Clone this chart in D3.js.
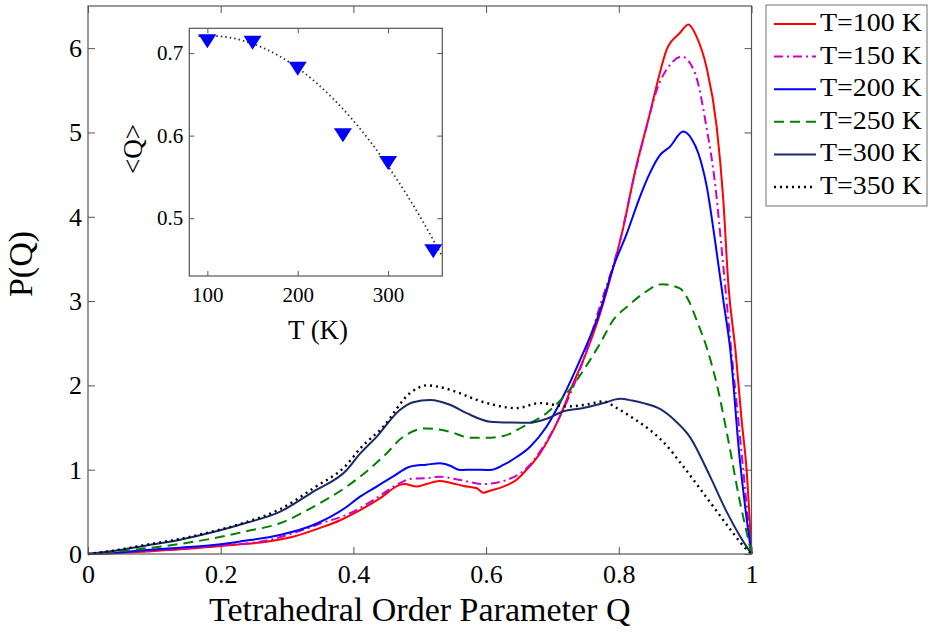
<!DOCTYPE html>
<html>
<head>
<meta charset="utf-8">
<script src="https://cdn.jsdelivr.net/npm/d3@7"></script>
<style>
  body { margin: 0; background: #fff; }
  svg { display: block; font-family: "Liberation Serif", "Times New Roman", serif; }
  svg text { font-family: "Liberation Serif", "Times New Roman", serif !important; }
</style>
</head>
<body>
<svg width="930" height="634"></svg>
<script>
/* global d3 */

// distributions P(Q), pairs of [Q, P]
const t100 = [[0,0],[0.04,0.01],[0.088,0.03],[0.14,0.055],[0.189,0.087],[0.23,0.115],[0.269,0.146],[0.309,0.205],[0.35,0.31],[0.38,0.4],[0.41,0.52],[0.44,0.66],[0.47,0.82],[0.477,0.83],[0.495,0.8],[0.51,0.83],[0.53,0.866],[0.546,0.846],[0.566,0.807],[0.586,0.78],[0.596,0.727],[0.606,0.75],[0.626,0.8],[0.646,0.88],[0.656,0.957],[0.681,1.19],[0.711,1.63],[0.73,2.0],[0.7465,2.3],[0.772,2.855],[0.792,3.41],[0.807,3.88],[0.824,4.52],[0.847,5.23],[0.86,5.65],[0.872,5.98],[0.892,6.18],[0.905,6.28],[0.917,6.14],[0.932,5.78],[0.9475,5.07],[0.9575,4.2],[0.965,3.21],[0.976,2.4],[0.985,1.6],[0.993,0.957],[1,0]];
const t150 = [[0,0],[0.088,0.035],[0.189,0.095],[0.269,0.16],[0.309,0.245],[0.35,0.36],[0.395,0.483],[0.43,0.64],[0.47,0.84],[0.485,0.89],[0.51,0.9],[0.5305,0.917],[0.561,0.878],[0.596,0.83],[0.631,0.878],[0.661,1.017],[0.686,1.27],[0.716,1.708],[0.7465,2.3],[0.77,2.9],[0.802,3.72],[0.822,4.44],[0.842,5.07],[0.857,5.5],[0.877,5.8],[0.895,5.9],[0.915,5.7],[0.932,5.07],[0.945,4.4],[0.9575,3.41],[0.97,2.38],[0.98,1.6],[0.99,0.8],[1,0]];
const t200 = [[0,0],[0.04,0.015],[0.088,0.047],[0.139,0.075],[0.189,0.107],[0.23,0.15],[0.289,0.225],[0.3396,0.344],[0.39,0.56],[0.41,0.68],[0.435,0.8],[0.46,0.92],[0.485,1.036],[0.51,1.06],[0.5305,1.076],[0.545,1.05],[0.561,0.996],[0.58,1.0],[0.606,0.996],[0.626,1.056],[0.646,1.15],[0.666,1.27],[0.691,1.51],[0.716,1.866],[0.7415,2.3],[0.772,2.89],[0.792,3.41],[0.812,3.8],[0.832,4.24],[0.847,4.52],[0.862,4.73],[0.877,4.83],[0.897,5.01],[0.91,4.92],[0.92,4.75],[0.9325,4.36],[0.945,3.72],[0.9575,3.01],[0.9676,2.45],[0.982,1.15],[0.993,0.4],[1,0]];
const t250 = [[0,0],[0.038,0.025],[0.088,0.068],[0.139,0.12],[0.189,0.186],[0.239,0.27],[0.289,0.364],[0.3396,0.56],[0.39,0.8],[0.41,0.917],[0.445,1.154],[0.475,1.39],[0.5105,1.49],[0.5456,1.45],[0.5757,1.38],[0.6,1.38],[0.626,1.4],[0.656,1.51],[0.691,1.67],[0.7215,1.906],[0.7566,2.3],[0.772,2.5],[0.792,2.78],[0.812,2.93],[0.837,3.09],[0.8646,3.2],[0.892,3.15],[0.905,3.01],[0.917,2.78],[0.932,2.46],[0.9475,2.02],[0.965,1.35],[0.982,0.64],[0.993,0.245],[1,0]];
const t300 = [[0,0],[0.038,0.035],[0.088,0.1],[0.139,0.17],[0.189,0.26],[0.239,0.37],[0.289,0.5],[0.3396,0.74],[0.39,0.996],[0.41,1.19],[0.435,1.39],[0.47,1.708],[0.49,1.8],[0.5155,1.827],[0.5456,1.77],[0.5707,1.67],[0.606,1.57],[0.64,1.56],[0.666,1.558],[0.69,1.6],[0.716,1.69],[0.745,1.73],[0.777,1.79],[0.802,1.84],[0.82,1.82],[0.837,1.79],[0.862,1.72],[0.885,1.58],[0.907,1.39],[0.937,0.93],[0.9626,0.5],[0.982,0.22],[1,0]];
const t350 = [[0,0],[0.038,0.04],[0.088,0.11],[0.139,0.18],[0.189,0.27],[0.239,0.38],[0.289,0.53],[0.3396,0.78],[0.39,1.06],[0.41,1.25],[0.445,1.51],[0.485,1.906],[0.511,2.0],[0.5305,1.98],[0.561,1.906],[0.585,1.83],[0.611,1.77],[0.646,1.73],[0.681,1.79],[0.7215,1.75],[0.75,1.77],[0.777,1.81],[0.797,1.73],[0.82,1.62],[0.847,1.47],[0.867,1.33],[0.897,1.04],[0.937,0.62],[0.9726,0.245],[0.985,0.12],[1,0]];

const seriesNames = ["T=100 K", "T=150 K", "T=200 K", "T=250 K", "T=300 K", "T=350 K"];
const xTicks = [0, 0.2, 0.4, 0.6, 0.8, 1];
const yTicks = [0, 1, 2, 3, 4, 5, 6];

// inset: mean Q against temperature
const insetT = [100, 150, 200, 250, 300, 350];
const insetQ = [0.7144, 0.7124, 0.681, 0.6005, 0.567, 0.46];
const fitT = [90, 100, 120, 140, 160, 180, 200, 220, 240, 260, 280, 300, 320, 340, 360];
const fitQ = [0.7205, 0.721, 0.7196, 0.7149, 0.7071, 0.6961, 0.6819, 0.6645, 0.6439, 0.6201, 0.5932, 0.563, 0.5296, 0.4931, 0.4534];
const insetXTicks = [100, 200, 300];
const insetYTicks = [0.5, 0.6, 0.7];

const series = [t100, t150, t200, t250, t300, t350];
const colors = ["#ff0000", "#cc00cc", "#0000ff", "#008000", "#1b2a6b", "#000000"];
const dashes = [null, "9,4,2,4", null, "10,6", null, "2,4"];
const widths = [2, 2, 2, 2, 2, 2.4];

const svg = d3.select("svg");
const frameColor = "#555";

const box = { left: 88, right: 751.5, top: 6, bottom: 554 };
const x = d3.scaleLinear().domain([0, 1]).range([box.left, box.right]);
const y = d3.scaleLinear().domain([0, 6.5]).range([box.bottom, box.top]);

function styleAxis(g, size) {
  g.attr("font-family", null).attr("font-size", size);
  g.select(".domain").remove();
  g.selectAll(".tick line").attr("stroke", frameColor);
  g.selectAll(".tick text").attr("fill", "#000");
}

// main axes, ticks inward on all four sides
svg.append("g")
  .attr("transform", `translate(0,${box.bottom})`)
  .call(d3.axisBottom(x).tickValues(xTicks).tickSize(-7).tickPadding(11).tickFormat(d3.format("~g")))
  .call(g => styleAxis(g, 26));
svg.append("g")
  .attr("transform", `translate(0,${box.top})`)
  .call(d3.axisTop(x).tickValues(xTicks).tickSize(-7).tickFormat(""))
  .call(g => styleAxis(g, 26));
svg.append("g")
  .attr("transform", `translate(${box.left},0)`)
  .call(d3.axisLeft(y).tickValues(yTicks).tickSize(-7).tickPadding(6).tickFormat(d3.format("d")))
  .call(g => styleAxis(g, 26));
svg.append("g")
  .attr("transform", `translate(${box.right},0)`)
  .call(d3.axisRight(y).tickValues(yTicks).tickSize(-7).tickFormat(""))
  .call(g => styleAxis(g, 26));

const line = d3.line()
  .x(d => x(d[0]))
  .y(d => y(d[1]))
  .curve(d3.curveMonotoneX);

svg.append("g")
  .selectAll("path")
  .data(series)
  .join("path")
  .attr("d", line)
  .attr("fill", "none")
  .attr("stroke", (d, i) => colors[i])
  .attr("stroke-width", (d, i) => widths[i])
  .attr("stroke-dasharray", (d, i) => dashes[i])
  .attr("stroke-linejoin", "round");

svg.append("rect")
  .attr("x", box.left).attr("y", box.top)
  .attr("width", box.right - box.left).attr("height", box.bottom - box.top)
  .attr("fill", "none").attr("stroke", frameColor).attr("stroke-width", 1.2);

svg.append("text")
  .attr("x", (box.left + box.right) / 2).attr("y", 621)
  .attr("text-anchor", "middle").style("font-size", "34px")
  .text("Tetrahedral Order Parameter Q");
svg.append("text")
  .attr("transform", "translate(32,264) rotate(-90)")
  .attr("text-anchor", "middle").style("font-size", "34px")
  .text("P(Q)");

// inset
const ib = { left: 189.3, right: 442.3, top: 28.3, bottom: 276 };
const ix = d3.scaleLinear().domain([80, 360]).range([ib.left, ib.right]);
const iy = d3.scaleLinear().domain([0.43, 0.73]).range([ib.bottom, ib.top]);

svg.append("rect")
  .attr("x", ib.left).attr("y", ib.top)
  .attr("width", ib.right - ib.left).attr("height", ib.bottom - ib.top)
  .attr("fill", "#fff");

svg.append("g")
  .attr("transform", `translate(0,${ib.bottom})`)
  .call(d3.axisBottom(ix).tickValues(insetXTicks).tickSize(-5).tickPadding(11))
  .call(g => styleAxis(g, 21));
svg.append("g")
  .attr("transform", `translate(0,${ib.top})`)
  .call(d3.axisTop(ix).tickValues(insetXTicks).tickSize(-5).tickFormat(""))
  .call(g => styleAxis(g, 21));
svg.append("g")
  .attr("transform", `translate(${ib.left},0)`)
  .call(d3.axisLeft(iy).tickValues(insetYTicks).tickSize(-5).tickPadding(6).tickFormat(d3.format(".1f")))
  .call(g => styleAxis(g, 21));
svg.append("g")
  .attr("transform", `translate(${ib.right},0)`)
  .call(d3.axisRight(iy).tickValues(insetYTicks).tickSize(-5).tickFormat(""))
  .call(g => styleAxis(g, 21));

svg.append("path")
  .datum(fitT.map((t, i) => [t, fitQ[i]]))
  .attr("d", d3.line().x(d => ix(d[0])).y(d => iy(d[1])).curve(d3.curveMonotoneX))
  .attr("fill", "none")
  .attr("stroke", "#333")
  .attr("stroke-width", 1.8)
  .attr("stroke-dasharray", "1.5,3");

svg.append("g")
  .selectAll("path")
  .data(insetT)
  .join("path")
  .attr("transform", (d, i) => `translate(${ix(d)},${iy(insetQ[i])})`)
  .attr("d", "M-9,-7L9,-7L0,7Z")
  .attr("fill", "#0000ff");

svg.append("rect")
  .attr("x", ib.left).attr("y", ib.top)
  .attr("width", ib.right - ib.left).attr("height", ib.bottom - ib.top)
  .attr("fill", "none").attr("stroke", frameColor).attr("stroke-width", 1.2);

svg.append("text")
  .attr("x", 318).attr("y", 339)
  .attr("text-anchor", "middle").style("font-size", "27px")
  .text("T (K)");
svg.append("text")
  .attr("transform", "translate(142,149) rotate(-90)")
  .attr("text-anchor", "middle").style("font-size", "27px")
  .text("<Q>");

// legend
const legend = svg.append("g");
legend.append("rect")
  .attr("x", 766).attr("y", 5).attr("width", 161).attr("height", 201)
  .attr("fill", "#fff").attr("stroke", "#888").attr("stroke-width", 1.2);

const rows = legend.selectAll("g.row")
  .data(seriesNames)
  .join("g")
  .attr("class", "row")
  .attr("transform", (d, i) => `translate(0,${24 + i * 32.6})`);
rows.append("line")
  .attr("x1", 774).attr("x2", 816)
  .attr("stroke", (d, i) => colors[i])
  .attr("stroke-width", (d, i) => widths[i])
  .attr("stroke-dasharray", (d, i) => dashes[i]);
rows.append("text")
  .attr("x", 820).attr("y", 7)
  .style("font-size", "25px")
  .attr("textLength", 102)
  .attr("lengthAdjust", "spacingAndGlyphs")
  .text(d => d);
</script>
</body>
</html>
